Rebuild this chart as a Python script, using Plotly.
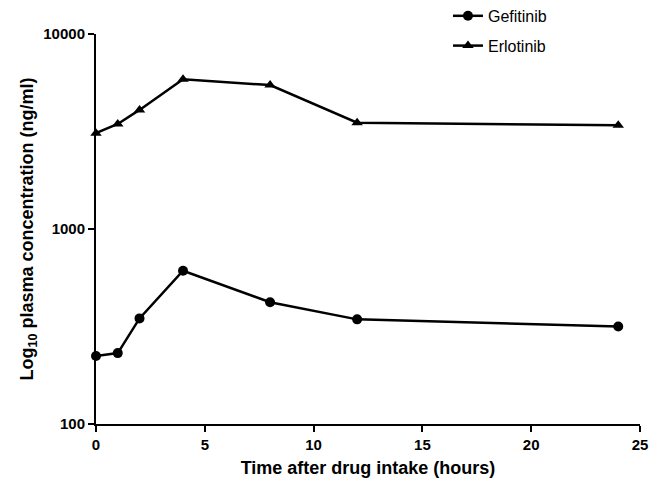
import plotly.graph_objects as go

hours = [0, 1, 2, 4, 8, 12, 24]
gefitinib = [223, 231, 348, 611, 421, 344, 316]
erlotinib = [3100, 3455, 4080, 5860, 5470, 3510, 3400]
x_ticks = [0, 5, 10, 15, 20, 25]
y_ticks = [100, 1000, 10000]

FONT = "Liberation Sans, Arial, sans-serif"

fig = go.Figure()
fig.add_trace(go.Scatter(
    x=hours, y=gefitinib, name="Gefitinib", mode="lines+markers",
    legendgroup="g",
    line=dict(color="black", width=2.5),
    marker=dict(symbol="circle", size=10, color="black"),
    cliponaxis=False,
))
fig.add_trace(go.Scatter(
    x=hours, y=erlotinib, name="Erlotinib", mode="lines+markers",
    legendgroup="e",
    line=dict(color="black", width=2.5),
    marker=dict(symbol="triangle-up", size=10, color="black"),
    cliponaxis=False,
))

fig.update_layout(
    width=649, height=482,
    margin=dict(l=96, r=9, t=34, b=58, autoexpand=False),
    paper_bgcolor="white", plot_bgcolor="white",
    font=dict(family=FONT, color="black"),
    showlegend=True,
    legend=dict(
        x=0.647, y=1.09, xanchor="left", yanchor="top",
        font=dict(size=16, family=FONT, color="black"),
        bgcolor="rgba(0,0,0,0)", tracegroupgap=6, itemwidth=30,
        traceorder="grouped",
    ),
    xaxis=dict(
        range=[0, 25], tickvals=x_ticks, ticktext=[str(v) for v in x_ticks],
        showline=True, linecolor="black", linewidth=2,
        ticks="outside", ticklen=6, tickwidth=2, tickcolor="black",
        showgrid=False, zeroline=False, automargin=False,
        ticklabeloverflow="allow",
        tickfont=dict(size=15, family=FONT, weight="bold"),
        title=dict(text="Time after drug intake (hours)",
                   font=dict(size=18, family=FONT, weight="bold"), standoff=9),
    ),
    yaxis=dict(
        type="log", range=[2, 4], tickvals=y_ticks,
        ticktext=[str(v) for v in y_ticks],
        showline=True, linecolor="black", linewidth=2,
        ticks="outside", ticklen=6, tickwidth=2, tickcolor="black",
        showgrid=False, zeroline=False, automargin=False,
        tickfont=dict(size=15, family=FONT, weight="bold"),
        title=dict(text="Log<sub>10</sub> plasma concentration (ng/ml)",
                   font=dict(size=18, family=FONT, weight="bold"), standoff=5),
    ),
)

# remove the browser's default 8px page margin so the figure fills the window
fig.write_html(
    "out.html",
    config={"displayModeBar": False},
    post_script="document.body.style.margin='0';document.body.style.overflow='hidden';",
)
